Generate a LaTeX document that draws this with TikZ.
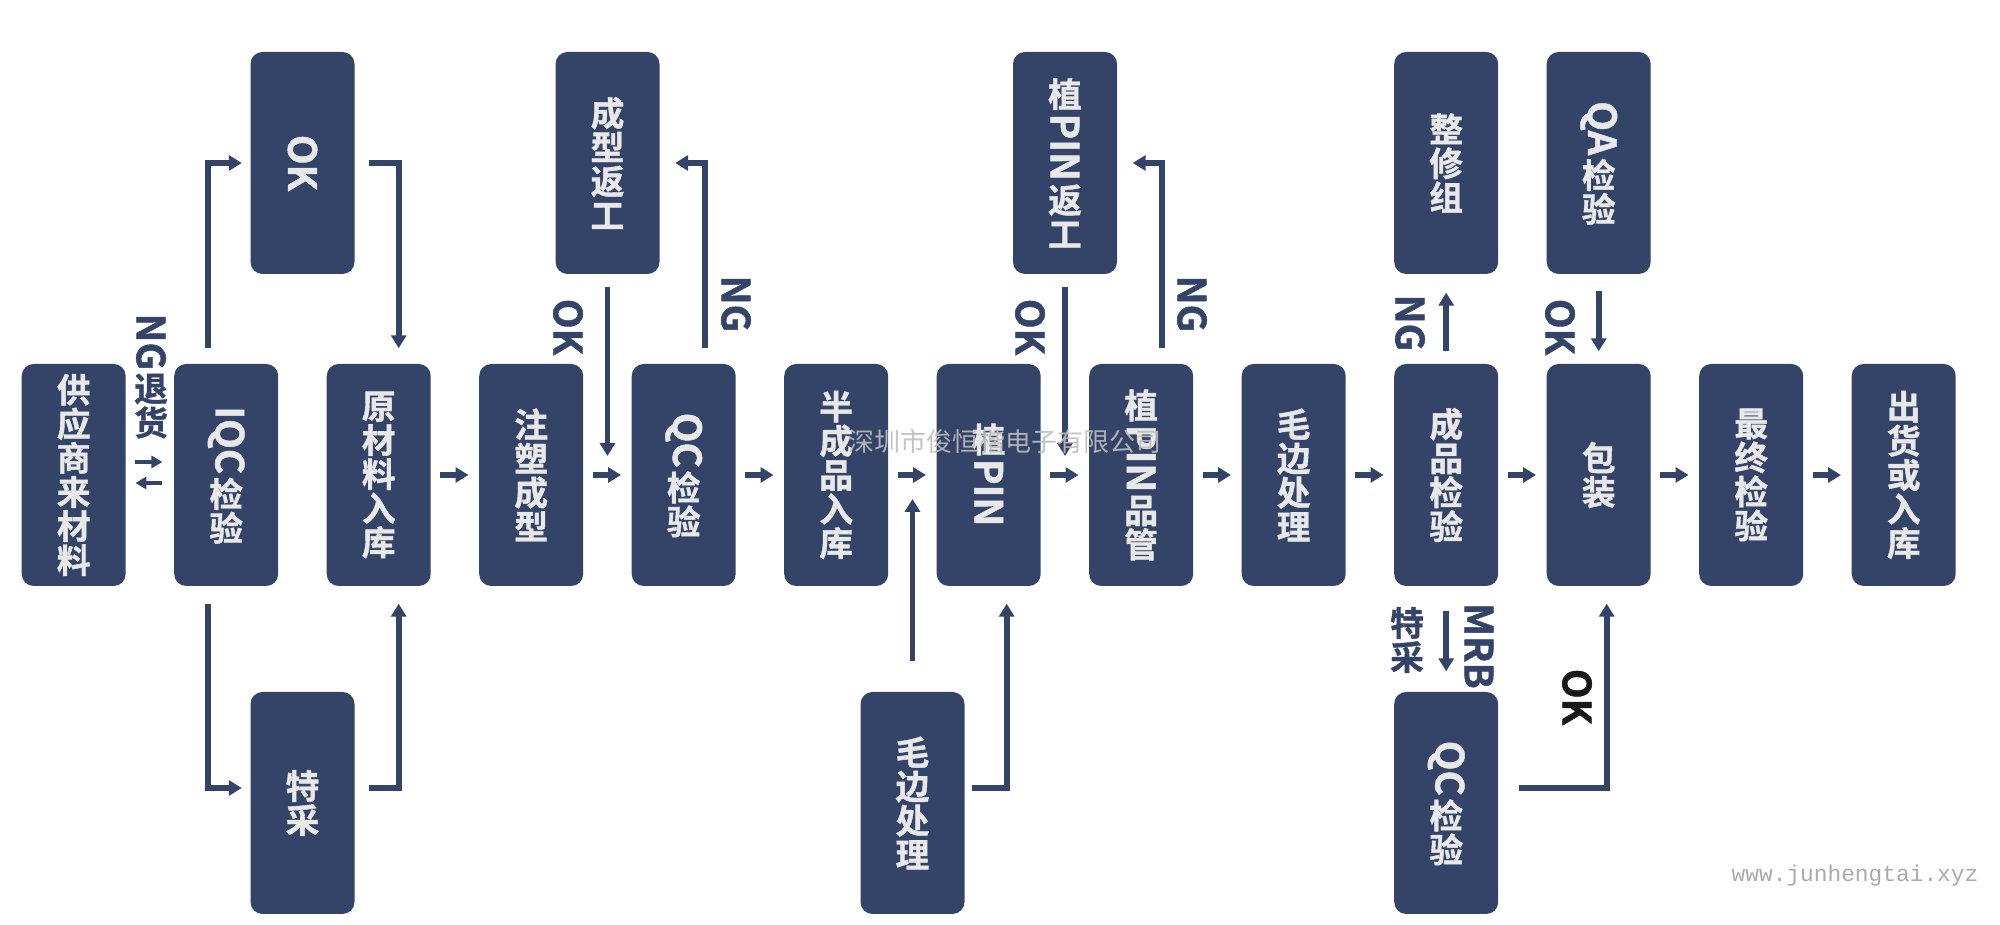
\documentclass[tikz,border=0pt]{standalone}
\usepackage{fontspec}
\usepackage{graphicx}
\setmainfont{Noto Sans CJK SC}[BoldFont=* Bold, BoldFeatures={FakeBold=1.2}]
\newfontfamily\urlfont{Liberation Mono}
\usetikzlibrary{arrows.meta,calc}

\definecolor{boxblue}{HTML}{344468}
\definecolor{boxtext}{HTML}{E8E8E8}
\definecolor{wmgray}{HTML}{BDBDBD}

% latin words lie on their side in the vertical labels
\newcommand{\vlat}[1]{\rotatebox[origin=c]{-90}{\fontsize{11pt}{11pt}\selectfont #1}}

\begin{document}
\begin{tikzpicture}[
  stage/.style={fill=boxblue, rounded corners=1.2mm, minimum width=1.04cm,
                minimum height=2.22cm, inner sep=0pt, text=boxtext, align=center,
                font=\bfseries\fontsize{9.6pt}{9.7pt}\selectfont},
  flow/.style={draw=boxblue, line width=1.7pt,
               -{Triangle[width=1.5mm,length=1.3mm]}},
  back/.style={draw=boxblue, line width=1.2pt,
               -{Triangle[width=1.2mm,length=1.1mm]}},
  lbl/.style={text=#1, align=center, inner sep=0pt,
              font=\bfseries\fontsize{9.6pt}{9.7pt}\selectfont},
  lbl/.default=boxblue,
  wmark/.style={text=wmgray, opacity=0.9, inner sep=0pt,
                font=\fontsize{7.4pt}{7.4pt}\selectfont}]

  \useasboundingbox (0,0) rectangle (20,-9.25);

  % main line
  \node[stage] (supp)  at (0.737,-4.75)  {供\\应\\商\\来\\材\\料};
  \node[stage] (iqc)   at (2.262,-4.75)  {\vlat{IQC}\\检\\验};
  \node[stage] (raw)   at (3.787,-4.75)  {原\\材\\料\\入\\库};
  \node[stage] (mold)  at (5.312,-4.75)  {注\\塑\\成\\型};
  \node[stage] (qcA)   at (6.837,-4.75)  {\vlat{QC}\\检\\验};
  \node[stage] (semi)  at (8.362,-4.75)  {半\\成\\品\\入\\库};
  \node[stage] (pin)   at (9.887,-4.75)  {植\\\vlat{PIN}};
  \node[stage] (pinqc) at (11.412,-4.75) {植\\\vlat{PIN}\\品\\管};
  \node[stage] (debB)  at (12.937,-4.75) {毛\\边\\处\\理};
  \node[stage] (fqc)   at (14.462,-4.75) {成\\品\\检\\验};
  \node[stage] (pack)  at (15.987,-4.75) {包\\装};
  \node[stage] (last)  at (17.512,-4.75) {最\\终\\检\\验};
  \node[stage] (ship)  at (19.037,-4.75) {出\\货\\或\\入\\库};

  % upper row
  \node[stage] (ok)    at (3.025,-1.63)  {\vlat{OK}};
  \node[stage] (rwA)   at (6.075,-1.63)  {成\\型\\返\\工};
  \node[stage] (rwB)   at (10.65,-1.63)  {植\\\vlat{PIN}\\返\\工};
  \node[stage] (fix)   at (14.462,-1.63) {整\\修\\组};
  \node[stage] (qa)    at (15.987,-1.63) {\vlat{QA}\\检\\验};

  % lower row
  \node[stage] (tc)    at (3.025,-8.03)  {特\\采};
  \node[stage] (debA)  at (9.125,-8.03)  {毛\\边\\处\\理};
  \node[stage] (qcB)   at (14.462,-8.03) {\vlat{QC}\\检\\验};

  % supplier <-> IQC
  \draw[back, shorten <=0.9mm, shorten >=1.1mm]
    ([yshift=1.3mm]supp.east) -- ([yshift=1.3mm]iqc.west);
  \draw[back, shorten <=1.1mm, shorten >=0.9mm]
    ([yshift=-0.8mm]iqc.west) -- ([yshift=-0.8mm]supp.east);

  % straight run
  \foreach \a/\b in {raw/mold, mold/qcA, qcA/semi, semi/pin, pin/pinqc,
                     pinqc/debB, debB/fqc, fqc/pack, pack/last, last/ship}
    \draw[flow, shorten <=0.9mm, shorten >=1mm] (\a.east) -- (\b.west);

  % IQC split
  \draw[flow, shorten <=1.5mm, shorten >=0.8mm]
    ([xshift=-1.8mm]iqc.north) |- (ok.west);
  \draw[flow, shorten <=1.4mm, shorten >=1.5mm]
    (ok.east) -| ([xshift=2mm]raw.north);
  \draw[flow, shorten <=1.7mm, shorten >=0.8mm]
    ([xshift=-1.8mm]iqc.south) |- ([yshift=1.5mm]tc.west);
  \draw[flow, shorten <=1.4mm, shorten >=1.7mm]
    ([yshift=1.5mm]tc.east) -| ([xshift=2mm]raw.south);

  % rework loops
  \coordinate (jA) at (rwA.south |- mold.east);
  \coordinate (jB) at (rwB.south |- pin.east);
  \coordinate (jC) at (debA.north |- semi.east);
  \draw[flow, shorten <=1.2mm, shorten >=1.9mm] (rwA.south) -- (jA);
  \draw[flow, shorten <=1.5mm, shorten >=1.5mm]
    ([xshift=2.1mm]qcA.north) |- (rwA.east);
  \draw[flow, shorten <=1.2mm, shorten >=1.9mm] (rwB.south) -- (jB);
  \draw[flow, shorten <=1.5mm, shorten >=1.5mm]
    ([xshift=2.1mm]pinqc.north) |- (rwB.east);
  \draw[flow, shorten <=3mm, shorten >=2.4mm] (debA.north) -- (jC);
  \draw[flow, shorten <=0.7mm, shorten >=1.7mm]
    ([yshift=1.5mm]debA.east) -| ([xshift=1.8mm]pin.south);

  % final checks
  \draw[flow, shorten <=1.2mm, shorten >=1.8mm] (fqc.north) -- (fix.south);
  \draw[flow, shorten <=1.6mm, shorten >=1.2mm] (qa.south) -- (pack.north);
  \draw[flow, shorten <=2.4mm, shorten >=2mm] (fqc.south) -- (qcB.north);
  \draw[flow, shorten <=2mm, shorten >=1.7mm]
    ([yshift=1.5mm]qcB.east) -| ([xshift=0.8mm]pack.south);

  % labels
  \node[lbl] (ngret) at (1.51,-3.76)  {\vlat{NG}\\退\\货};
  \node[lbl] (okA)   at (5.68,-3.27)  {\vlat{OK}};
  \node[lbl] (ngA)   at (7.36,-3.04)  {\vlat{NG}};
  \node[lbl] (okB)   at (10.30,-3.27) {\vlat{OK}};
  \node[lbl] (ngB)   at (11.92,-3.04) {\vlat{NG}};
  \node[lbl] (ngC)   at (14.10,-3.23) {\vlat{NG}};
  \node[lbl] (okC)   at (15.60,-3.27) {\vlat{OK}};
  \node[lbl] (tcl)   at (14.07,-6.40) {特\\采};
  \node[lbl] (mrb)   at (14.79,-6.46) {\vlat{MRB}};
  \node[lbl=black!90] (okD) at (15.77,-6.97) {\vlat{OK}};

  % watermark
  \node[wmark] (wm) at (10.05,-4.42) {深圳市俊恒楷电子有限公司};
  \node[text=wmgray!90!black, inner sep=0pt,
        font=\urlfont\fontsize{6.5pt}{6.5pt}\selectfont] (url) at (18.55,-8.76)
       {www.junhengtai.xyz};

\end{tikzpicture}
\end{document}
